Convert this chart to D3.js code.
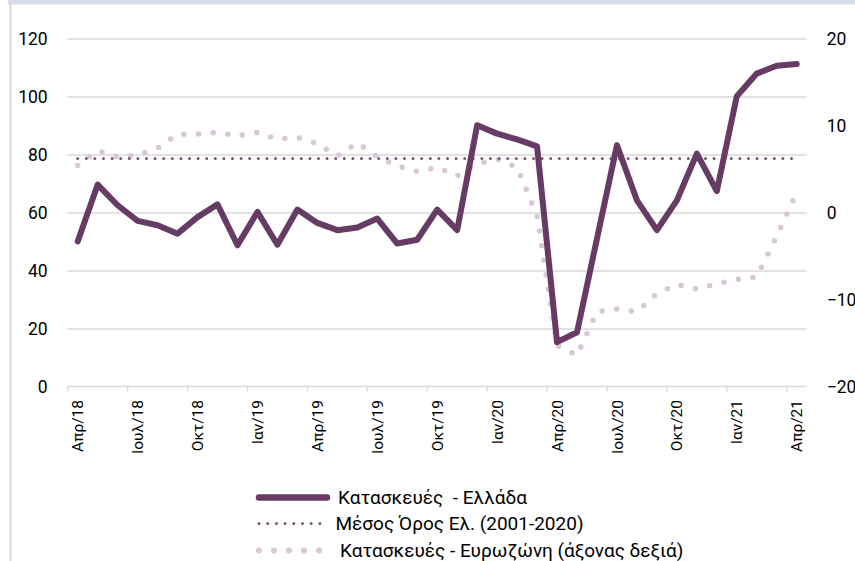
<!DOCTYPE html>
<html>
<head>
<meta charset="utf-8">
<script src="https://cdn.jsdelivr.net/npm/d3@7/dist/d3.min.js"></script>
<style>
body { margin: 0; background: #fff; }
text { font-family: Roboto, "Noto Sans", sans-serif; fill: #000; }
</style>
</head>
<body>
<svg id="chart" width="855" height="561"></svg>
<script>
// months Apr/18 .. Apr/21
var months = ["Απρ/18","Μαϊ/18","Ιουν/18","Ιουλ/18","Αυγ/18","Σεπ/18","Οκτ/18","Νοε/18","Δεκ/18",
  "Ιαν/19","Φεβ/19","Μαρ/19","Απρ/19","Μαϊ/19","Ιουν/19","Ιουλ/19","Αυγ/19","Σεπ/19","Οκτ/19","Νοε/19","Δεκ/19",
  "Ιαν/20","Φεβ/20","Μαρ/20","Απρ/20","Μαϊ/20","Ιουν/20","Ιουλ/20","Αυγ/20","Σεπ/20","Οκτ/20","Νοε/20","Δεκ/20",
  "Ιαν/21","Φεβ/21","Μαρ/21","Απρ/21"];

// Κατασκευές - Ελλάδα (αριστερός άξονας)
var greece = [50, 69.6, 62.5, 57.1, 55.6, 52.7, 58.4, 62.8, 48.7, 60.2, 48.9, 61.0,
  56.4, 53.9, 54.8, 57.9, 49.3, 50.6, 61.0, 53.9, 90.1, 87.2, 85.2, 82.8,
  15.3, 18.7, 51.0, 83.2, 64.2, 53.9, 64.2, 80.3, 67.4, 100.1, 107.9, 110.6, 111.2];

// Μέσος Όρος Ελ. (2001-2020)
var greeceMean = 78.6;

// Κατασκευές - Ευρωζώνη (δεξιός άξονας)
var euro = [5.4, 7.1, 6.4, 6.6, 7.4, 9.0, 9.0, 9.2, 8.8, 9.2, 8.4, 8.65,
  7.9, 6.5, 8.0, 6.4, 5.35, 4.7, 5.2, 4.2, 5.6, 6.1, 5.2, -0.4,
  -15.3, -16.4, -11.4, -11.1, -11.4, -9.3, -8.3, -8.8, -8.2, -7.7, -7.4, -2.7, 2.3];

var leftTicks = [0, 20, 40, 60, 80, 100, 120];
var rightTicks = [-20, -10, 0, 10, 20];

var legendLabels = ["Κατασκευές  - Ελλάδα", "Μέσος Όρος Ελ. (2001-2020)", "Κατασκευές - Ευρωζώνη (άξονας δεξιά)"];

var svg = d3.select("#chart");
var plotL = 67.7, plotR = 806.7, plotT = 38.5, plotB = 386.5;

// πλαίσιο
svg.append("rect").attr("x", 8).attr("y", 0).attr("width", 847).attr("height", 4.5).attr("fill", "#d6dce5");
svg.append("line").attr("x1", 10.5).attr("x2", 10.5).attr("y1", 4).attr("y2", 561)
  .attr("stroke", "#d9d9d9").attr("stroke-width", 2);

var x = d3.scaleBand().domain(months).range([plotL, plotR]).paddingInner(0).paddingOuter(0);
var yL = d3.scaleLinear().domain([0, 120]).range([plotB, plotT]);
var yR = d3.scaleLinear().domain([-20, 20]).range([plotB, plotT]);
var bw = x.bandwidth();
var cx = function(i) { return x(months[i]) + bw / 2; };

// άξονας αριστερά + γραμμές πλέγματος
var gl = svg.append("g").attr("transform", "translate(" + plotL + ",0)")
  .call(d3.axisLeft(yL).tickValues(leftTicks).tickSize(-(plotR - plotL)).tickPadding(20));
gl.select(".domain").remove();
gl.selectAll("line").attr("stroke", "#d9d9d9").attr("stroke-width", 1.4);
gl.selectAll("text").style("font-size", "17.5px");
gl.selectAll(".tick").filter(function(d) { return d === 0; }).select("line").remove();

// άξονας δεξιά
var gr = svg.append("g").attr("transform", "translate(" + plotR + ",0)")
  .call(d3.axisRight(yR).tickValues(rightTicks).tickSize(0).tickPadding(20));
gr.select(".domain").remove();
gr.selectAll("text").style("font-size", "17.5px");

// άξονας x
var gx = svg.append("g").attr("transform", "translate(0," + plotB + ")")
  .call(d3.axisBottom(x).tickValues(months.filter(function(d, i) { return i % 3 === 0; })).tickSize(5));
gx.select(".domain").attr("d", "M" + plotL + ",0H" + plotR).attr("stroke", "#d9d9d9").attr("stroke-width", 1.4);
gx.selectAll(".tick line").attr("x1", -bw / 2).attr("x2", -bw / 2).attr("stroke", "#d9d9d9").attr("stroke-width", 1.4);
gx.selectAll(".tick text")
  .attr("transform", "rotate(-90)")
  .attr("x", -13.5).attr("y", 0).attr("dy", "0.36em")
  .style("text-anchor", "end")
  .style("font-size", "15.5px");

// σειρές
var lineL = d3.line().x(function(d, i) { return cx(i); }).y(function(d) { return yL(d); });
var lineR = d3.line().x(function(d, i) { return cx(i); }).y(function(d) { return yR(d); });

svg.append("path").datum(euro).attr("d", lineR)
  .attr("fill", "none").attr("stroke", "#d9c6d6").attr("stroke-width", 5.5)
  .attr("stroke-linecap", "round").attr("stroke-dasharray", "0,14.7");

svg.append("path").datum(months.map(function() { return greeceMean; })).attr("d", lineL)
  .attr("fill", "none").attr("stroke", "#7d5579").attr("stroke-width", 3)
  .attr("stroke-linecap", "round").attr("stroke-dasharray", "0,8.6");

svg.append("path").datum(greece).attr("d", lineL)
  .attr("fill", "none").attr("stroke", "#663c64").attr("stroke-width", 6)
  .attr("stroke-linejoin", "round").attr("stroke-linecap", "round");

// υπόμνημα
var lg = svg.append("g");
var rowY = [497.5, 523.5, 550.5];
lg.append("line").attr("x1", 259).attr("x2", 327).attr("y1", rowY[0]).attr("y2", rowY[0])
  .attr("stroke", "#663c64").attr("stroke-width", 6.5).attr("stroke-linecap", "round");
lg.append("line").attr("x1", 259).attr("x2", 321).attr("y1", rowY[1]).attr("y2", rowY[1])
  .attr("stroke", "#7d5579").attr("stroke-width", 3).attr("stroke-linecap", "round").attr("stroke-dasharray", "0,8.7");
lg.append("line").attr("x1", 259).attr("x2", 320.5).attr("y1", rowY[2]).attr("y2", rowY[2])
  .attr("stroke", "#d9c6d6").attr("stroke-width", 6).attr("stroke-linecap", "round").attr("stroke-dasharray", "0,15");
var textX = [338, 335.5, 340];
lg.selectAll("text.leg").data(legendLabels).enter().append("text")
  .attr("class", "leg")
  .attr("x", function(d, i) { return textX[i]; })
  .attr("y", function(d, i) { return rowY[i]; })
  .attr("dy", "0.36em")
  .style("font-size", "19px")
  .style("white-space", "pre")
  .text(function(d) { return d; });
</script>
</body>
</html>
